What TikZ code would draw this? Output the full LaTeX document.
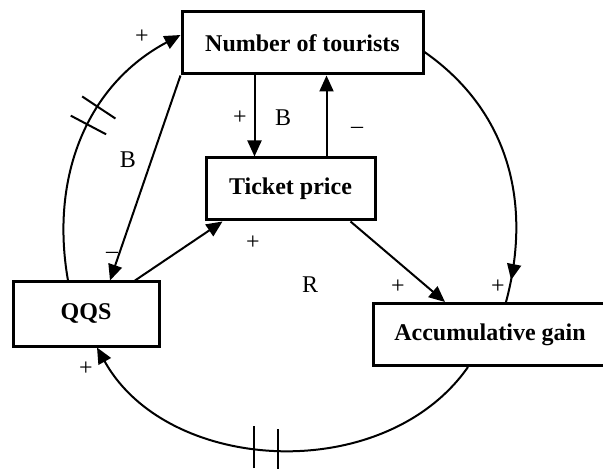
\documentclass[tikz,border=0pt]{standalone}
\usepackage{fontspec}
\setmainfont{Liberation Serif}
\usetikzlibrary{arrows.meta,decorations.markings}
\tikzset{
  var/.style={draw,line width=1.5pt,font=\fontsize{12}{14}\selectfont\bfseries,minimum height=31pt,inner sep=0pt},
  link/.style={line width=1pt,-{Triangle[length=8pt,width=7pt]}},
  sign/.style={inner sep=0pt,font=\fontsize{12}{14}\selectfont},
  midtip/.style={line width=1pt,postaction={decorate},decoration={markings,
    mark=at position #1 with {\arrow{Triangle[length=8pt,width=7pt]}}}},
  delay/.style 2 args={postaction={decorate},decoration={markings,
    mark=at position #1 with {\draw[-,line width=1pt] (0,-10pt) -- (0,10pt);},
    mark=at position #2 with {\draw[-,line width=1pt] (0,-10pt) -- (0,10pt);}}},
  % senkrechte Striche
  delayv/.style 2 args={postaction={decorate},decoration={markings,
    mark=at position #1 with {\pgftransformresetnontranslations\draw[-,line width=1pt] (0,-10.5pt) -- (0,10.5pt);},
    mark=at position #2 with {\pgftransformresetnontranslations\draw[-,line width=1pt] (0,-10.5pt) -- (0,10.5pt);}}},
}
\begin{document}
\begin{tikzpicture}[x=0.5pt,y=-0.5pt]
\useasboundingbox (0,0) rectangle (603,469);
\clip (0,0) rectangle (603,469);
% Variablen
\node[var,minimum width=120.5pt] (nt) at (302.5,43) {Number of tourists};
\node[var,minimum width=84.5pt] (tp) at (290.5,189) {Ticket price};
\node[var,minimum width=73pt,minimum height=32pt] (qqs) at (86,314) {QQS};
\node[var,minimum width=117pt] (ag) at (490,334.5) {Accumulative gain};
% gerade Pfeile
\draw[link] ([xshift=-24pt]nt.south) -- ([xshift=-18pt]tp.north);
\draw[link] ([xshift=18pt]tp.north) -- ([xshift=12pt]nt.south);
\draw[link] (nt.south west) -- ([xshift=12pt]qqs.north);
\draw[link] ([xshift=24.5pt]qqs.north) -- ([xshift=-34pt]tp.south);
\draw[link] ([xshift=30pt]tp.south) -- ([xshift=-22.5pt]ag.north);
% Boegen
\draw[midtip=0.92] ([yshift=-4.5pt]nt.east) to[out=-35,in=75] ([xshift=8pt]ag.north);
\draw[link,delayv={0.5}{0.555}] ([xshift=-11pt]ag.south) to[out=-125,in=-61] ([xshift=5.5pt]qqs.south);
\draw[link,delay={0.55}{0.62}] ([xshift=-9pt]qqs.north) to[out=100,in=208] ([yshift=4pt]nt.west);
% Vorzeichen
\node[sign] (s1) at (142,37) {+};
\node[sign] (s2) at (240,118) {+};
\node[sign] (s3) at (283,118) {B};
\node[sign] (s4) at (357,130) {–};
\node[sign] (s5) at (128,160) {B};
\node[sign] (s6) at (112,255) {–};
\node[sign] (s7) at (253,243) {+};
\node[sign] (s8) at (310,285) {R};
\node[sign] (s9) at (398,287) {+};
\node[sign] (s10) at (498,287) {+};
\node[sign] (s11) at (86,369) {+};
\end{tikzpicture}
\end{document}
